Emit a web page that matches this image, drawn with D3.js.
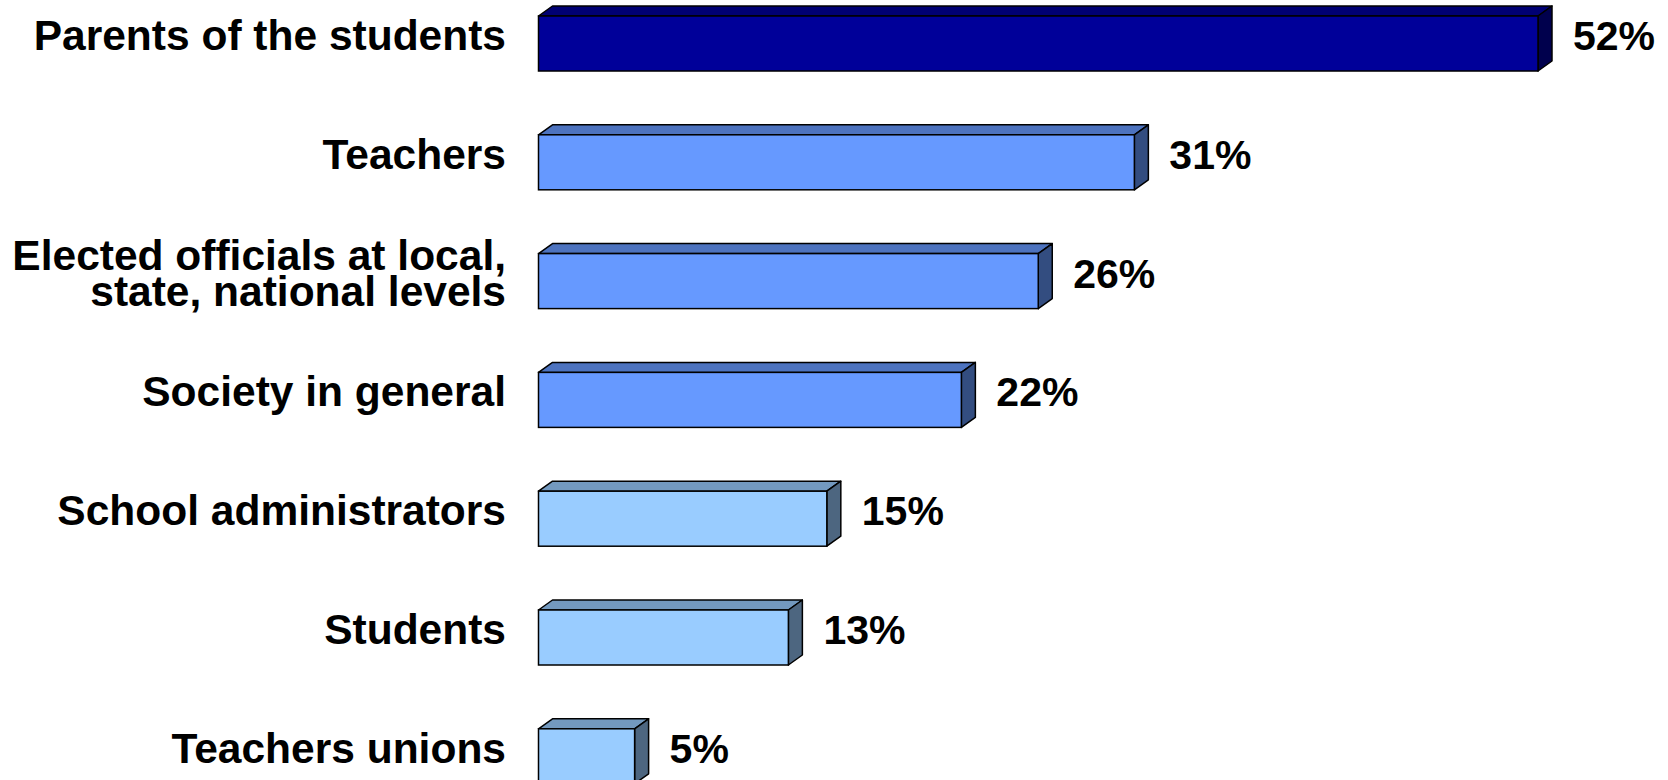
<!DOCTYPE html>
<html>
<head>
<meta charset="utf-8">
<script src="https://cdn.jsdelivr.net/npm/d3@7"></script>
<style>
  html, body { margin: 0; padding: 0; background: #ffffff; }
  svg { display: block; }
  text { font-family: "Liberation Sans", Arial, sans-serif; font-weight: bold; fill: #000; }
</style>
</head>
<body>
<svg id="chart" width="1668" height="780"></svg>
<script>
// Who is responsible (share of respondents, %)
const categories = [
  "Parents of the students",
  "Teachers",
  "Elected officials at local,\nstate, national levels",
  "Society in general",
  "School administrators",
  "Students",
  "Teachers unions"
];
const values = [52, 31, 26, 22, 15, 13, 5];
// colour group per bar: 0 = top answer, 1 = middle tier, 2 = lower tier
const groups = [0, 1, 1, 1, 2, 2, 2];

const palette = [
  { front: "#000099", top: "#000073", side: "#00004d" },
  { front: "#6699ff", top: "#4d73bf", side: "#334d80" },
  { front: "#99ccff", top: "#7399bf", side: "#4d6680" }
];

const svg = d3.select("#chart");

const x = d3.scaleLinear().domain([0, 52]).range([538.5, 1538]);
const y = d3.scaleBand()
  .domain(categories)
  .range([16, 783.8])
  .paddingInner(0.537)
  .paddingOuter(0);

const depthX = 14, depthY = 10;
const catFont = 42.5;
const valFont = 41;
const labelRight = 506;

const rows = categories.map((c, i) => ({ cat: c, value: values[i], group: groups[i] }));

const bar = svg.append("g").selectAll("g")
  .data(rows)
  .join("g");

bar.each(function(d) {
  const g = d3.select(this);
  const x0 = x(0), x1 = x(d.value);
  const y0 = y(d.cat), y1 = y0 + y.bandwidth();
  const col = palette[d.group];
  // top face
  g.append("path")
    .attr("d", `M${x0},${y0} L${x0 + depthX},${y0 - depthY} L${x1 + depthX},${y0 - depthY} L${x1},${y0} Z`)
    .attr("fill", col.top).attr("stroke", "#000").attr("stroke-width", 1.5)
    .attr("stroke-linejoin", "round");
  // side face
  g.append("path")
    .attr("d", `M${x1},${y0} L${x1 + depthX},${y0 - depthY} L${x1 + depthX},${y1 - depthY} L${x1},${y1} Z`)
    .attr("fill", col.side).attr("stroke", "#000").attr("stroke-width", 1.5)
    .attr("stroke-linejoin", "round");
  // front face
  g.append("rect")
    .attr("x", x0).attr("y", y0)
    .attr("width", x1 - x0).attr("height", y1 - y0)
    .attr("fill", col.front).attr("stroke", "#000").attr("stroke-width", 1.5);

  // value label
  g.append("text")
    .attr("x", x1 + 35)
    .attr("y", y0 + 34)
    .attr("font-size", valFont)
    .text(d.value + "%");

  // category label (right aligned, may wrap to two lines)
  const lines = d.cat.split("\n");
  const t = g.append("text")
    .attr("text-anchor", "end")
    .attr("font-size", catFont);
  if (lines.length === 1) {
    t.append("tspan").attr("x", labelRight).attr("y", y0 + 34).text(lines[0]);
  } else {
    lines.forEach((ln, k) => {
      t.append("tspan").attr("x", labelRight).attr("y", y0 + 16 + k * 36).text(ln);
    });
  }
});
</script>
</body>
</html>
